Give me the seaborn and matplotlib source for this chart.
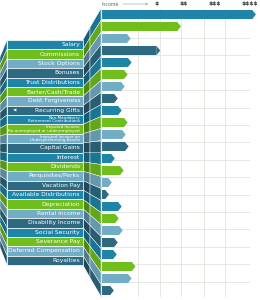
import numpy as np
import pandas as pd
import matplotlib
matplotlib.use("Agg")
import matplotlib.pyplot as plt
from matplotlib.patches import Polygon, Rectangle
from matplotlib.colors import to_rgb
from matplotlib.ticker import FixedLocator, NullLocator
import seaborn as sns

plt.rcParams["text.parse_math"] = False

# datos de la grafica
categorias = [
    "Salary", "Commissions", "Stock Options", "Bonuses", "Trust Distributions",
    "Barter/Cash/Trade", "Debt Forgiveness", "Recurring Gifts",
    "Non-Mandatory\nRetirement Contributions",
    "Imputed Income\nRe:unemployed or underemployed",
    "Imputed Income on\nUnderperforming Assets",
    "Capital Gains", "Interest", "Dividends", "Perquisites/Perks", "Vacation Pay",
    "Available Distributions", "Depreciation", "Rental Income", "Disability Income",
    "Social Security", "Severance Pay", "Deferred Compensation", "Royalties",
]
ingresos = [157, 81, 30, 60, 31, 27, 24, 17, 21, 27, 25, 28,
            14, 23, 11, 8, 21, 18, 22, 17, 16, 35, 31, 13]
tick_pos = [56, 84, 115, 151]
tick_labels = ["$", "$$", "$$$", "$$$$"]
colores_ciclo = ["#1e84a8", "#6fbe1c", "#72adc5", "#2d6a82"]

colores = [colores_ciclo[i % 4] for i in range(len(categorias))]


def oscurecer(c, f=0.72):
    r, g, b = to_rgb(c)
    return (r * f, g * f, b * f)


df = pd.DataFrame({"categoria": categorias, "ingreso": ingresos})

fig = plt.figure(figsize=(2.6, 3.0), dpi=100)

# =============================================================================
# panel izquierdo: etiquetas + caras laterales + conectores (coordenadas en px)
# =============================================================================
axB = fig.add_axes([0, 0, 1, 1])
axB.set_xlim(0, 260)
axB.set_ylim(300, 0)
axB.axis("off")

n = len(categorias)
alto_izq = 225 / n
alto_lat = 190 / n
alto_der = 12.0
for i, (cat, col) in enumerate(zip(categorias, colores)):
    y0 = 40 + alto_izq * i
    y1 = y0 + alto_izq
    # cara lateral (perspectiva)
    l0 = 57 + alto_lat * i
    axB.add_patch(Polygon([(7, y0), (7, y1), (0, l0 + alto_lat), (0, l0)],
                          closed=True, fc=oscurecer(col, 0.8), ec="white", lw=0.3))
    # conector hacia las barras: tramo oscuro + tramo del color de la fila
    r0 = 8.5 + alto_der * i
    m0 = y0 + (r0 - y0) * 0.4
    m1 = y1 + (r0 + alto_der - y1) * 0.4
    axB.add_patch(Polygon([(83, y0), (83, y1), (90, m1), (90, m0)],
                          closed=True, fc=oscurecer(col, 0.7), ec="white", lw=0.3))
    axB.add_patch(Polygon([(90, m0), (90, m1), (101, r0 + alto_der), (101, r0)],
                          closed=True, fc=oscurecer(col, 0.88), ec="white", lw=0.3))
    # caja de etiqueta
    axB.add_patch(Rectangle((7, y0), 76, alto_izq, fc=col, ec="white", lw=0.5))
    if "\n" in cat:
        axB.text(80, (y0 + y1) / 2, cat, ha="right", va="center", fontsize=3.0,
                 color="white", linespacing=0.85)
    else:
        axB.text(80, (y0 + y1) / 2, cat, ha="right", va="center", fontsize=4.3,
                 color="white")
    if cat == "Recurring Gifts":
        axB.text(13, (y0 + y1) / 2, "\u25c0", ha="left", va="center",
                 fontsize=3.2, color="white")

axB.text(102, 4, "Income", fontsize=3.4, color="#666666", va="center")
axB.annotate("", xy=(151, 4), xytext=(120, 4),
             arrowprops=dict(arrowstyle="->", lw=0.4, color="#999999",
                             mutation_scale=4))

# =============================================================================
# panel derecho: barras con punta de flecha
# =============================================================================
axA = fig.add_axes([101 / 260, 1 - 296.5 / 300, 149 / 260, 288 / 300])
axA.set_facecolor("white")
sns.barplot(data=df, x="ingreso", y="categoria", hue="categoria",
            palette=colores, legend=False, width=0.82, ax=axA,
            saturation=1, linewidth=0)
axA.set_xlim(0, 149)
axA.set_ylim(n - 0.5, -0.5)

punta = 4
for p in list(axA.patches):
    x, y, w, h = p.get_x(), p.get_y(), p.get_width(), p.get_height()
    p.set_width(w - punta)
    p.set_clip_on(False)
    axA.add_patch(Polygon([(x + w - punta, y), (x + w, y + h / 2),
                           (x + w - punta, y + h)], closed=True,
                          fc=p.get_facecolor(), ec="none", clip_on=False))

axA.xaxis.tick_top()
axA.set_xticks(tick_pos)
axA.set_xticklabels(tick_labels, fontsize=4.2, fontweight="bold", color="#333333")
axA.xaxis.set_minor_locator(FixedLocator([37, 60, 81, 104, 126]))
axA.yaxis.set_major_locator(NullLocator())
axA.yaxis.set_minor_locator(FixedLocator(np.arange(1.96, n, 1.45)))
axA.tick_params(axis="both", which="both", length=0, pad=1.5)
axA.tick_params(axis="y", which="both", labelleft=False)
axA.xaxis.grid(True, which="minor", color="#e4e4de", lw=0.6)
axA.yaxis.grid(True, which="minor", color="#e4e4de", lw=0.6)
axA.xaxis.grid(False, which="major")
axA.set_axisbelow(True)
axA.set_xlabel("")
axA.set_ylabel("")
for s in ["top", "right", "bottom"]:
    axA.spines[s].set_visible(False)
axA.spines["left"].set_color("#dde8ec")
axA.spines["left"].set_linewidth(0.8)

fig.savefig("out.png", dpi=100)
